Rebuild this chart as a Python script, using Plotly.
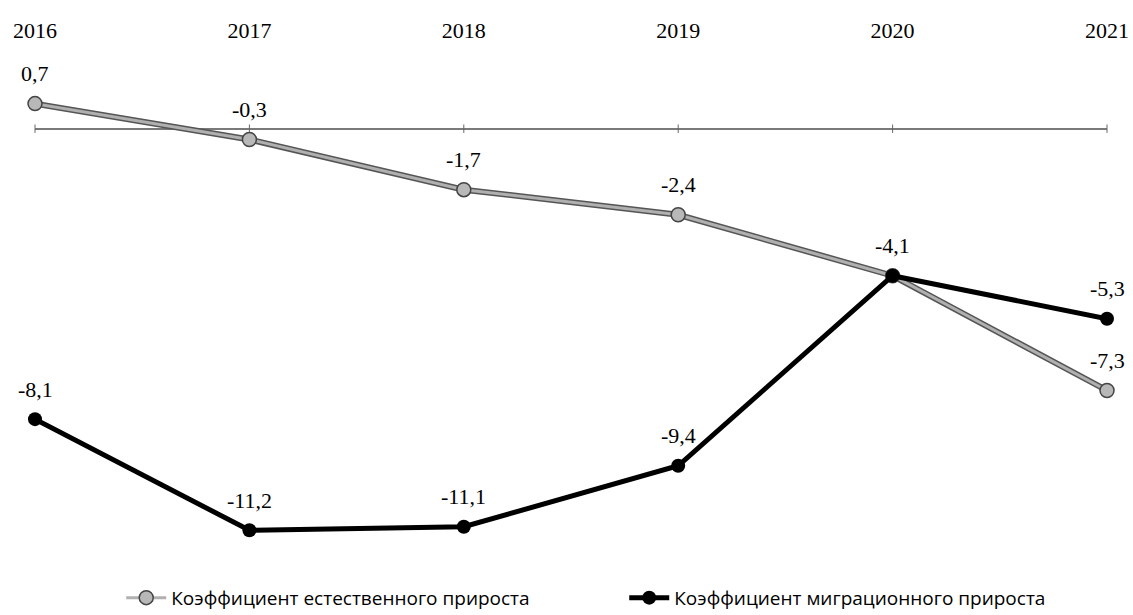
import plotly.graph_objects as go

years = [2016, 2017, 2018, 2019, 2020, 2021]
natural = [0.7, -0.3, -1.7, -2.4, -4.1, -7.3]
migration = [-8.1, -11.2, -11.1, -9.4, -4.1, -5.3]
natural_labels = ["0,7", "-0,3", "-1,7", "-2,4", "-4,1", "-7,3"]
migration_labels = ["-8,1", "-11,2", "-11,1", "-9,4", "", "-5,3"]

serif = "Liberation Serif"

fig = go.Figure()

# small tick marks on the zero line
fig.add_trace(go.Scatter(
    x=years, y=[0] * len(years), mode="markers",
    marker=dict(symbol="line-ns-open", size=6, color="#666",
                line=dict(color="#666", width=1)),
    showlegend=False, hoverinfo="skip", cliponaxis=False,
))

# natural growth: dark edge under a light gray line
fig.add_trace(go.Scatter(
    x=years, y=natural, mode="lines",
    line=dict(color="#555555", width=6),
    showlegend=False, hoverinfo="skip", cliponaxis=False,
))
fig.add_trace(go.Scatter(
    x=years, y=natural, mode="lines+markers",
    name="Коэффициент естественного прироста",
    line=dict(color="#b0b0b0", width=3),
    marker=dict(color="#b8b8b8", size=14, line=dict(color="#444", width=1.5)),
    cliponaxis=False,
))

fig.add_trace(go.Scatter(
    x=years, y=migration, mode="lines+markers",
    name="Коэффициент миграционного прироста",
    line=dict(color="black", width=5),
    marker=dict(color="black", size=14),
    cliponaxis=False,
))

for x, y, t in zip(years, natural, natural_labels):
    fig.add_annotation(x=x, y=y, text=t, showarrow=False, yshift=30,
                       font=dict(family=serif, size=22, color="black"))
for x, y, t in zip(years, migration, migration_labels):
    if t:
        fig.add_annotation(x=x, y=y, text=t, showarrow=False, yshift=30,
                           font=dict(family=serif, size=22, color="black"))

fig.update_layout(
    width=1133, height=615,
    margin=dict(l=35, r=26, t=57, b=56, autoexpand=False),
    plot_bgcolor="white", paper_bgcolor="white",
    xaxis=dict(
        range=[2016, 2021], side="top", tickvals=years,
        showgrid=False, zeroline=False, showline=False, ticks="",
        ticklabelstandoff=14, automargin=False,
        tickfont=dict(family=serif, size=22, color="black"),
    ),
    yaxis=dict(
        range=[-12, 2], visible=True, showticklabels=False, showgrid=False,
        zeroline=True, zerolinecolor="#7a7a7a", zerolinewidth=1.5, ticks="",
        automargin=False,
    ),
    legend=dict(
        orientation="h", xref="container", x=0.107, xanchor="left",
        yref="container", y=0.028, yanchor="middle",
        font=dict(family="Open Sans", size=19, color="black"),
        itemwidth=40, tracegroupgap=0,
        entrywidthmode="pixels", entrywidth=448,
    ),
)

fig.write_html("out.html", config={"displayModeBar": False},
               post_script="document.body.style.margin='0';document.body.style.overflow='hidden';")
